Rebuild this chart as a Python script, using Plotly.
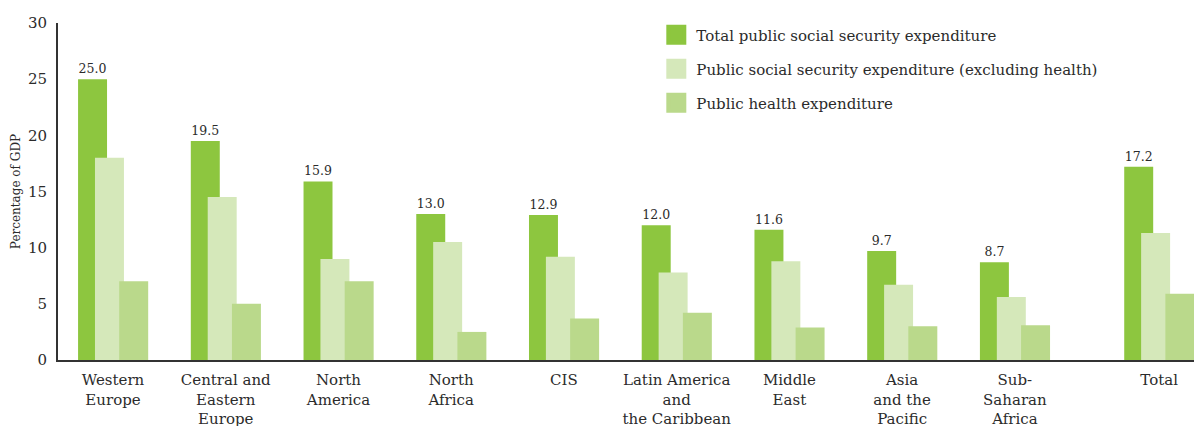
import plotly.graph_objects as go

# Datos (porcentaje del PIB)
regiones = ["Western<br>Europe", "Central and<br>Eastern<br>Europe", "North<br>America",
            "North<br>Africa", "CIS", "Latin America<br>and<br>the Caribbean",
            "Middle<br>East", "Asia<br>and the<br>Pacific", "Sub-<br>Saharan<br>Africa", "Total"]
posiciones = [0, 1, 2, 3, 4, 5, 6, 7, 8, 9.28]

gasto_total = [25.0, 19.5, 15.9, 13.0, 12.9, 12.0, 11.6, 9.7, 8.7, 17.2]
gasto_sin_salud = [18.0, 14.5, 9.0, 10.5, 9.2, 7.8, 8.8, 6.7, 5.6, 11.3]
gasto_salud = [7.0, 5.0, 7.0, 2.5, 3.7, 4.2, 2.9, 3.0, 3.1, 5.9]

nombres = ["Total public social security expenditure",
           "Public social security expenditure (excluding health)",
           "Public health expenditure"]
colores = ["#8dc63f", "#d5e8ba", "#bad98b"]

fuente = "DejaVu Serif"
texto = "#2b2b2b"

fig = go.Figure()

series = [gasto_total, gasto_sin_salud, gasto_salud]
desplazamientos = [-0.31, -0.16, 0.055]
for i, (valores, color, off) in enumerate(zip(series, colores, desplazamientos)):
    fig.add_trace(go.Bar(
        x=posiciones, y=valores, width=0.257, offset=off,
        marker=dict(color=color, line=dict(width=0)),
        showlegend=False,
        text=[f"{v:.1f}" for v in valores] if i == 0 else None,
        textposition="outside" if i == 0 else "none",
        textfont=dict(family=fuente, size=12.5, color=texto),
        cliponaxis=False,
        hoverinfo="y",
    ))

# Leyenda con cuadros grandes
for i, (nombre, color) in enumerate(zip(nombres, colores)):
    fig.add_trace(go.Scatter(
        x=[None], y=[None], mode="markers", name=nombre,
        legendgroup=f"g{i}",
        marker=dict(symbol="square", size=16, color=color, line=dict(color=color, width=4)),
    ))

# la pagina tiene un margen de 8px, por eso 1194x418
fig.update_layout(
    width=1194, height=418,
    margin=dict(l=50, r=0, t=15, b=66, autoexpand=False),
    barmode="overlay",
    plot_bgcolor="white", paper_bgcolor="white",
    font=dict(family=fuente, size=15, color=texto),
    legend=dict(x=0.523, y=1.013, xanchor="left", yanchor="top",
                traceorder="grouped", tracegroupgap=11.5, itemsizing="trace",
                font=dict(family=fuente, size=15, color=texto),
                bgcolor="rgba(0,0,0,0)"),
)

fig.update_xaxes(
    range=[-0.488, 9.66], tickvals=posiciones, ticktext=regiones,
    showline=True, linecolor="#333333", linewidth=2,
    showgrid=False, zeroline=False, ticks="", ticklabelstandoff=5,
    tickfont=dict(family=fuente, size=15, color=texto), automargin=False,
)
fig.update_yaxes(
    range=[0, 30], dtick=5,
    showline=True, linecolor="#333333", linewidth=2,
    showgrid=False, zeroline=False, ticks="", ticklabelstandoff=6,
    tickfont=dict(family=fuente, size=15, color=texto), automargin=False,
    title=dict(text="Percentage of GDP", standoff=5,
               font=dict(family=fuente, size=12, color=texto)),
)

fig.write_html("out.html")
